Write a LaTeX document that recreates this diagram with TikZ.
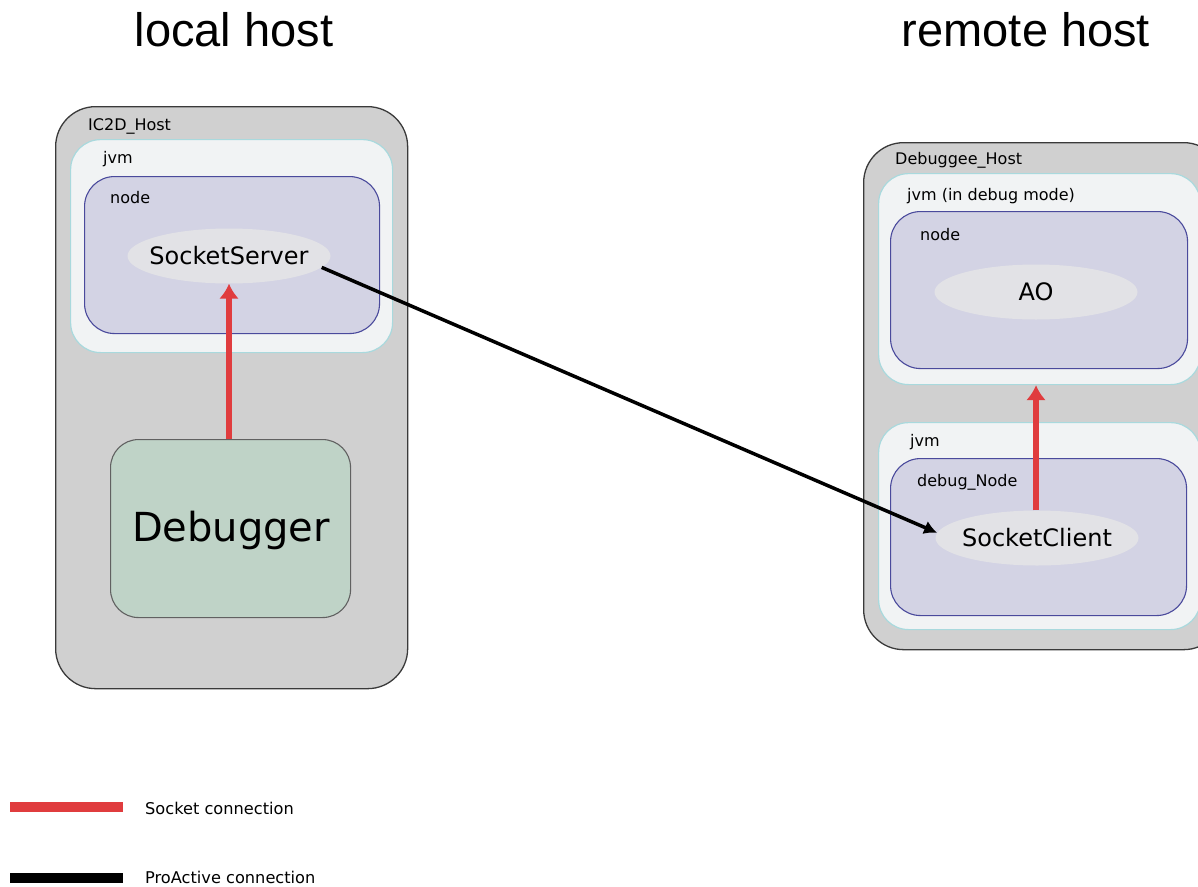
\documentclass[tikz,border=0pt]{standalone}
\usepackage{fontspec}
\setmainfont{DejaVu Sans}
\newfontfamily\titlefont{Liberation Sans}
\usetikzlibrary{shapes.geometric,arrows.meta}
\definecolor{hostfill}{HTML}{D0D0D0}
\definecolor{hostline}{HTML}{3A3A3A}
\definecolor{jvmfill}{HTML}{F1F3F4}
\definecolor{jvmline}{HTML}{A9D9DD}
\definecolor{nodefill}{HTML}{D3D3E4}
\definecolor{nodeline}{HTML}{4A4A9C}
\definecolor{ellfill}{HTML}{E2E2E6}
\definecolor{dbgfill}{HTML}{BFD3C7}
\definecolor{sockred}{HTML}{E03C3E}
\tikzset{
  hostbox/.style={draw=hostline, fill=hostfill, line width=1.3pt, rounded corners=40pt, anchor=north west, inner sep=0pt},
  jvmbox/.style={draw=jvmline, fill=jvmfill, line width=1.2pt, rounded corners=30pt, anchor=north west, inner sep=0pt},
  nodebox/.style={draw=nodeline, fill=nodefill, line width=1.1pt, rounded corners=30pt, anchor=north west, inner sep=0pt},
  obj/.style={ellipse, fill=ellfill, minimum width=203pt, minimum height=55pt, inner sep=0pt, font=\fontsize{24}{28}\selectfont},
  dbg/.style={draw=hostline!80, fill=dbgfill, line width=1.1pt, rounded corners=28pt, anchor=north west, inner sep=0pt},
  lbl/.style={anchor=base west, inner sep=0pt, font=\fontsize{16}{19}\selectfont},
  ttl/.style={inner sep=0pt, font=\titlefont\fontsize{47}{56}\selectfont},
  legtxt/.style={anchor=base west, inner sep=0pt, font=\fontsize{16.2}{19}\selectfont},
  sockarrow/.style={draw=sockred, line width=6pt, -{Latex[length=15pt,width=20pt]}},
  paarrow/.style={draw=black, line width=3.5pt, -{Latex[length=13pt,width=14pt]}},
}
\begin{document}
\begin{tikzpicture}[x=1pt,y=-1pt]
\useasboundingbox[fill=white] (0,0) rectangle (1198,886);
% titles
\node[ttl] (tlocal) at (234,30) {local host};
\node[ttl] (tremote) at (1026,30) {remote host};
% left host
\node[hostbox, minimum width=352pt, minimum height=582pt] (ichost) at (55,106) {};
\node[lbl] (ichostl) at (88,130) {IC2D\_Host};
\node[jvmbox, minimum width=322pt, minimum height=213pt] (jvmL) at (70,139) {};
\node[lbl] (jvmLl) at (103,163) {jvm};
\node[nodebox, minimum width=295pt, minimum height=157pt] (nodeL) at (84,176) {};
\node[lbl] (nodeLl) at (110,203) {node};
\node[obj] (ss) at (229,256) {\makebox[0pt]{SocketServer}};
\node[dbg, minimum width=240pt, minimum height=178pt] (debugger) at (110,439) {};
\node[font=\fontsize{40}{48}\selectfont, inner sep=0pt] (dbgl) at (231,530) {Debugger};
% right host
\node[hostbox, minimum width=360pt, minimum height=507pt] (dbhost) at (863,142) {};
\node[lbl] (dbhostl) at (895,164) {Debuggee\_Host};
\node[jvmbox, minimum width=322pt, minimum height=211pt] (jvmR1) at (878,173) {};
\node[lbl] (jvmR1l) at (907,200) {jvm (in debug mode)};
\node[nodebox, minimum width=297pt, minimum height=157pt] (nodeR) at (890,211) {};
\node[lbl] (nodeRl) at (920,240) {node};
\node[obj] (ao) at (1036,292) {\makebox[0pt]{AO}};
\node[jvmbox, minimum width=322pt, minimum height=207pt] (jvmR2) at (878,422) {};
\node[lbl] (jvmR2l) at (910,446) {jvm};
\node[nodebox, minimum width=296pt, minimum height=157pt] (dnode) at (890,458) {};
\node[lbl] (dnodel) at (917,486) {debug\_Node};
\node[obj] (sc) at (1037,538) {\makebox[0pt]{SocketClient}};
% connections
\draw[sockarrow] (debugger.north -| ss.south) -- (ss.south);
\draw[sockarrow] (sc.north -| 1036,0) -- (jvmR1.south -| 1036,0);
\draw[paarrow] (ss.-7.5) -- (sc.177);
% legend
\coordinate (r1) at (10,807);
\coordinate (r2) at (123,807);
\coordinate (b1) at (10,878);
\coordinate (b2) at (123,878);
\draw[sockred, line width=10pt] (r1) -- (r2);
\draw[black, line width=10pt] (b1) -- (b2);
\node[legtxt] (l1) at (145,814) {Socket connection};
\node[legtxt] (l2) at (145,883) {ProActive connection};
\end{tikzpicture}
\end{document}
